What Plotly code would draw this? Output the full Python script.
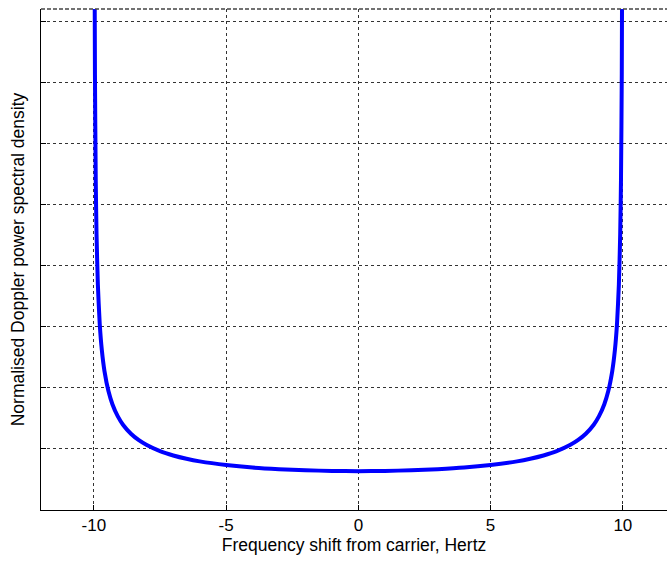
import plotly.graph_objects as go

# Frequency shift (Hz) and normalised Doppler PSD
freq_pos = [0, 1, 2, 3, 4, 5, 6, 6.5, 7, 7.5, 8, 8.3, 8.6, 8.9, 9.1, 9.3, 9.45,
            9.6, 9.7, 9.78, 9.85, 9.9, 9.93, 9.96, 9.98, 9.99]
psd_pos = [0.0318, 0.0320, 0.0325, 0.0334, 0.0347, 0.0368, 0.0398, 0.0419, 0.0446,
           0.0481, 0.0531, 0.0571, 0.0624, 0.0698, 0.0768, 0.0866, 0.0973,
           0.1137, 0.1309, 0.1526, 0.1845, 0.2256, 0.2695, 0.3563, 0.5036, 0.712]

freq = [-f for f in freq_pos[::-1]] + freq_pos[1:]
psd = psd_pos[::-1] + psd_pos[1:]

x_ticks = [-10, -5, 0, 5, 10]
x_tick_labels = ["-10", "-5", "0", "5", "10"]
y_ticks = [0, 0.05, 0.1, 0.15, 0.2, 0.25, 0.3, 0.35, 0.4]

FONT = "Liberation Sans, Arial, sans-serif"

fig = go.Figure()
fig.add_trace(go.Scatter(x=freq, y=psd, mode="lines",
                         line=dict(color="#0000FF", width=4, shape="spline", smoothing=0.6),
                         hoverinfo="skip"))

grid = dict(showgrid=True, gridcolor="#333333", gridwidth=1, griddash="3px,3px")

fig.update_layout(
    width=667, height=561,
    margin=dict(l=41, r=0, t=9, b=51),
    paper_bgcolor="white", plot_bgcolor="white",
    showlegend=False,
    font=dict(family=FONT, color="black"),
    xaxis=dict(range=[-12, 11.67], tickvals=x_ticks, ticktext=x_tick_labels,
               ticks="inside", ticklen=5,
               tickcolor="black", showline=True, linecolor="black", linewidth=1,
               zeroline=False, tickfont=dict(size=17, family=FONT),
               title=dict(text="Frequency shift from carrier, Hertz",
                          font=dict(size=17.5, family=FONT), standoff=2),
               **grid),
    yaxis=dict(range=[0, 0.41], tickvals=y_ticks, ticks="inside", ticklen=5,
               tickcolor="black", showline=True, linecolor="black", linewidth=1,
               zeroline=False, showticklabels=False,
               title=dict(text="Normalised Doppler power spectral density",
                          font=dict(size=17.5, family=FONT), standoff=10),
               **grid),
)

fig.add_shape(type="line", xref="paper", yref="paper", x0=0, x1=1, y0=1, y1=1,
              line=dict(color="#444444", width=1.5, dash="4px,2px"))

fig.write_html("out.html")
